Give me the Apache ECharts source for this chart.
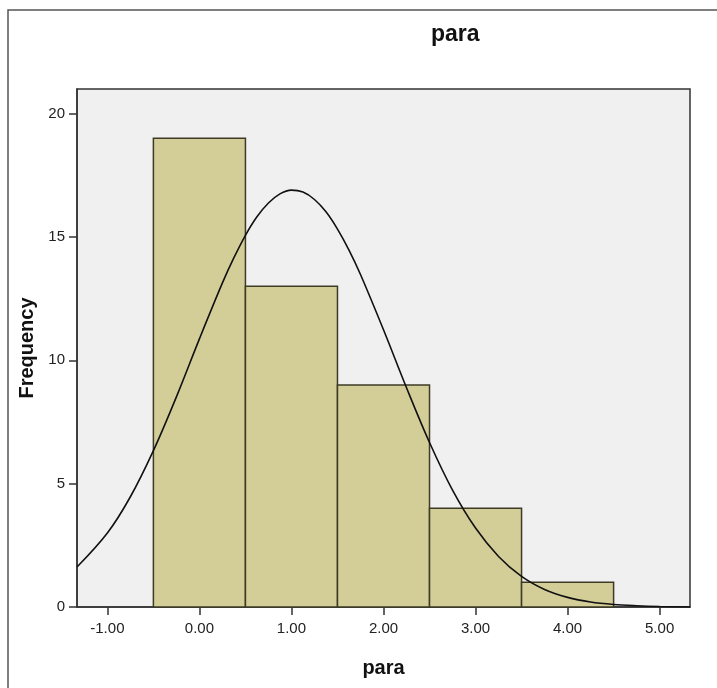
<!DOCTYPE html>
<html>
<head>
<meta charset="utf-8">
<script src="https://cdn.jsdelivr.net/npm/echarts@6/dist/echarts.min.js"></script>
<style>
  html, body { margin: 0; padding: 0; background: #fff; }
  #chart { width: 717px; height: 688px; }
</style>
</head>
<body>
<div id="chart"></div>
<script>
// histogram bins: lower edge, upper edge, frequency
var binLow = [-0.5, 0.5, 1.5, 2.5, 3.5];
var binHigh = [0.5, 1.5, 2.5, 3.5, 4.5];
var binCount = [19, 13, 9, 4, 1];

// normal curve
var curveX = [-1.33, -1.0, -0.75, -0.5, -0.25, 0.0, 0.25, 0.375, 0.5, 0.625, 0.75, 0.875, 1.0,
              1.125, 1.25, 1.375, 1.5, 1.625, 1.75, 2.0, 2.25, 2.5, 2.75, 3.0, 3.25, 3.5, 3.75,
              4.0, 4.25, 4.5, 4.75, 5.0, 5.33];
var curveY = [1.62, 3.0, 4.47, 6.34, 8.52, 10.87, 13.14, 14.16, 15.07, 15.82, 16.38, 16.75, 16.9,
              16.82, 16.52, 16.02, 15.32, 14.47, 13.48, 11.24, 8.89, 6.67, 4.74, 3.2, 2.05, 1.24, 0.71,
              0.39, 0.2, 0.1, 0.05, 0.02, 0.0];

var xTicks = [-1, 0, 1, 2, 3, 4, 5];
var yTicks = [0, 5, 10, 15, 20];

var font = "Liberation Sans";

var binData = [];
for (var i = 0; i < binCount.length; i++) {
    binData.push([binLow[i], binHigh[i], binCount[i]]);
}
var curveData = [];
for (var j = 0; j < curveX.length; j++) {
    curveData.push([curveX[j], curveY[j]]);
}

var chart = echarts.init(document.getElementById("chart"));
var option = {
    animation: false,
    backgroundColor: "#fff",
    title: {
        text: "para",
        left: 426,
        top: 18,
        textStyle: { fontFamily: font, fontSize: 23, fontWeight: "bold", color: "#111" }
    },
    // frame of the output window: left and top edges only
    graphic: [{
        type: "polyline",
        shape: { points: [[8, 700], [8, 10], [760, 10]] },
        style: { fill: null, stroke: "#555", lineWidth: 1.5 },
        silent: true
    }],
    grid: {
        left: 77,
        right: 27,
        top: 89,
        bottom: 81,
        show: true,
        backgroundColor: "#f0f0f0",
        borderColor: "#333",
        borderWidth: 1.5
    },
    xAxis: {
        type: "value",
        min: -1.33,
        max: 5.33,
        name: "para",
        nameLocation: "middle",
        nameGap: 51,
        nameTextStyle: { fontFamily: font, fontSize: 20, fontWeight: "bold", color: "#111" },
        splitLine: { show: false },
        axisLine: { show: true, onZero: false, lineStyle: { color: "#333", width: 1.5 } },
        axisTick: { show: true, length: 8, customValues: xTicks, lineStyle: { color: "#333", width: 1.5 } },
        axisLabel: {
            customValues: xTicks,
            margin: 14,
            fontFamily: font,
            fontSize: 15,
            color: "#222",
            formatter: function(v) { return v.toFixed(2); }
        }
    },
    yAxis: {
        type: "value",
        min: 0,
        max: 21,
        name: "Frequency",
        nameLocation: "middle",
        nameRotate: 90,
        nameGap: 36,
        nameTextStyle: { fontFamily: font, fontSize: 20, fontWeight: "bold", color: "#111" },
        splitLine: { show: false },
        axisLine: { show: true, onZero: false, lineStyle: { color: "#333", width: 1.5 } },
        axisTick: { show: true, length: 8, customValues: yTicks, lineStyle: { color: "#333", width: 1.5 } },
        axisLabel: {
            customValues: yTicks,
            margin: 12,
            fontFamily: font,
            fontSize: 15,
            color: "#222"
        }
    },
    series: [{
        type: "custom",
        data: binData,
        encode: { x: [0, 1], y: 2 },
        renderItem: function(params, api) {
            var p0 = api.coord([api.value(0), api.value(2)]);
            var p1 = api.coord([api.value(1), 0]);
            return {
                type: "rect",
                shape: { x: p0[0], y: p0[1], width: p1[0] - p0[0], height: p1[1] - p0[1] },
                style: { fill: "#d3cd98", stroke: "#3d3a26", lineWidth: 1.5 }
            };
        },
        z: 2
    }, {
        type: "line",
        data: curveData,
        smooth: 0.35,
        symbol: "none",
        lineStyle: { color: "#111", width: 1.6 },
        z: 3
    }]
};
chart.setOption(option);
</script>
</body>
</html>
